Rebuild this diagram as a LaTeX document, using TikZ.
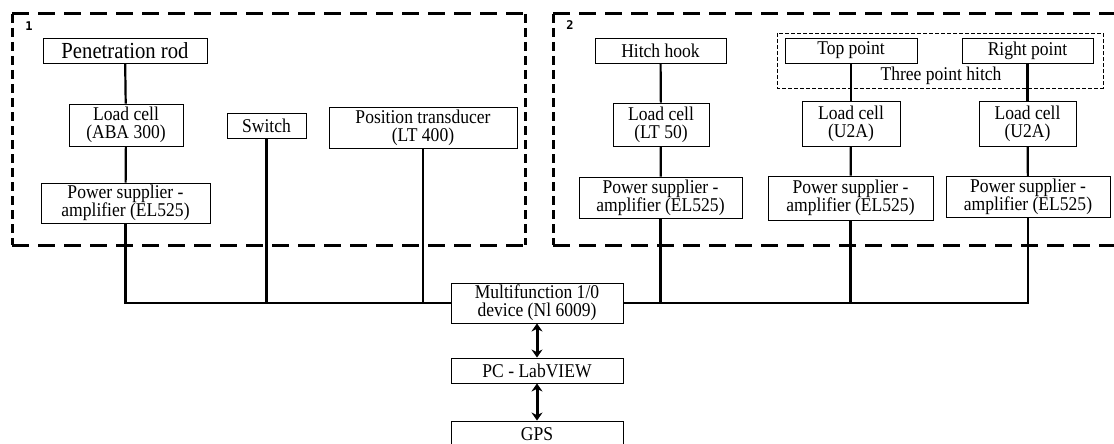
\documentclass[tikz,border=0pt]{standalone}
\usepackage{fontspec}
\setmainfont{Liberation Serif}[FakeStretch=0.9]
\newfontfamily\lblfont{DejaVu Sans Mono}
\usetikzlibrary{arrows.meta}
\tikzset{
  box/.style={draw, line width=0.9pt, inner sep=0pt, align=center, font=\fontsize{19.5}{18}\selectfont},
  conn/.style={line width=2.2pt},
  hdash/.style={line width=3pt, dash pattern=on 17pt off 9pt},
  vdash/.style={line width=3pt, dash pattern=on 9pt off 5pt},
  thinbox/.style={line width=0.9pt, dash pattern=on 4pt off 2pt},
  biarrow/.style={line width=3pt, {Stealth[length=8pt,width=11pt]}-{Stealth[length=8pt,width=11pt]}},
  grouplabel/.style={font=\lblfont\bfseries\fontsize{12}{12}\selectfont, inner sep=0pt}
}
\begin{document}
\begin{tikzpicture}[x=1pt,y=-1pt]
\useasboundingbox (0,0) rectangle (1114,444);
\clip (0,0) rectangle (1114,444);
\fill[white] (0,0) rectangle (1114,444);

% group frames
\draw[hdash] (12,14) -- (525,14);
\draw[hdash] (12,245) -- (525,245);
\draw[vdash] (12,14) -- (12,245);
\draw[vdash] (525,14) -- (525,245);
\draw[hdash] (553,14) -- (1125,14);
\draw[hdash] (553,245) -- (1125,245);
\draw[vdash] (553,14) -- (553,245);
\node[grouplabel] (g1) at (29,26) {1};
\node[grouplabel] (g2) at (570,25) {2};

% three point hitch frame
\draw[thinbox] (777,33) rectangle (1103,88);
\node[font=\fontsize{19.5}{18}\selectfont, inner sep=0pt] (tph) at (941,76) {Three point hitch};

% nodes group 1
\node[box, minimum width=164pt, minimum height=25pt, font=\fontsize{23}{20}\selectfont] (pr) at (125,50.5) {Penetration rod};
\node[box, minimum width=114pt, minimum height=42pt] (lc1) at (126,125) {Load cell\\(ABA 300)};
\node[box, minimum width=169pt, minimum height=40pt] (ps1) at (125.5,203) {Power supplier -\\amplifier (EL525)};
\node[box, minimum width=79pt, minimum height=25pt] (sw) at (266.5,125.5) {Switch};
\node[box, minimum width=188pt, minimum height=41pt] (pt) at (423,127.5) {Position transducer\\(LT 400)};

% nodes group 2
\node[box, minimum width=131pt, minimum height=25pt] (hh) at (660.5,50.5) {Hitch hook};
\node[box, minimum width=96pt, minimum height=43pt] (lc2) at (661,124.5) {Load cell\\(LT 50)};
\node[box, minimum width=163pt, minimum height=41pt] (ps2) at (660.5,197.5) {Power supplier -\\amplifier (EL525)};
\node[box, minimum width=132pt, minimum height=25pt] (tp) at (851,50.5) {Top point};
\node[box, minimum width=98pt, minimum height=45pt] (lc3) at (851,123.5) {Load cell\\(U2A)};
\node[box, minimum width=165pt, minimum height=44pt] (ps3) at (850.5,198) {Power supplier -\\amplifier (EL525)};
\node[box, minimum width=131pt, minimum height=25pt] (rp) at (1027.5,50.5) {Right point};
\node[box, minimum width=97pt, minimum height=45pt] (lc4) at (1027.5,123.5) {Load cell\\(U2A)};
\node[box, minimum width=164pt, minimum height=41pt] (ps4) at (1028,197) {Power supplier -\\amplifier (EL525)};

% central nodes
\node[box, minimum width=172pt, minimum height=40pt] (mf) at (537,303) {Multifunction 1/0\\device (Nl 6009)};
\node[box, minimum width=172pt, minimum height=25pt] (pc) at (537,370.5) {PC - LabVIEW};
\node[box, minimum width=172pt, minimum height=26pt] (gps) at (537,434) {GPS};

% connectors group 1
\draw[conn] (pr) -- (lc1);
\draw[conn] (lc1) -- (ps1);
\draw[conn] (ps1.south) |- (mf.west);
\draw[conn] (sw.south) -- (sw.south |- mf.west);
\draw[conn] (pt.south) -- (pt.south |- mf.west);

% connectors group 2
\draw[conn] (hh) -- (lc2);
\draw[conn] (lc2) -- (ps2);
\draw[conn] (tp) -- (lc3);
\draw[conn] (lc3) -- (ps3);
\draw[conn] (rp) -- (lc4);
\draw[conn] (lc4) -- (ps4);
\draw[conn] (ps4.south) |- (mf.east);
\draw[conn] (ps2.south) -- (ps2.south |- mf.east);
\draw[conn] (ps3.south) -- (ps3.south |- mf.east);

% arrows
\draw[biarrow] (mf) -- (pc);
\draw[biarrow] (pc) -- (gps);
\end{tikzpicture}
\end{document}
